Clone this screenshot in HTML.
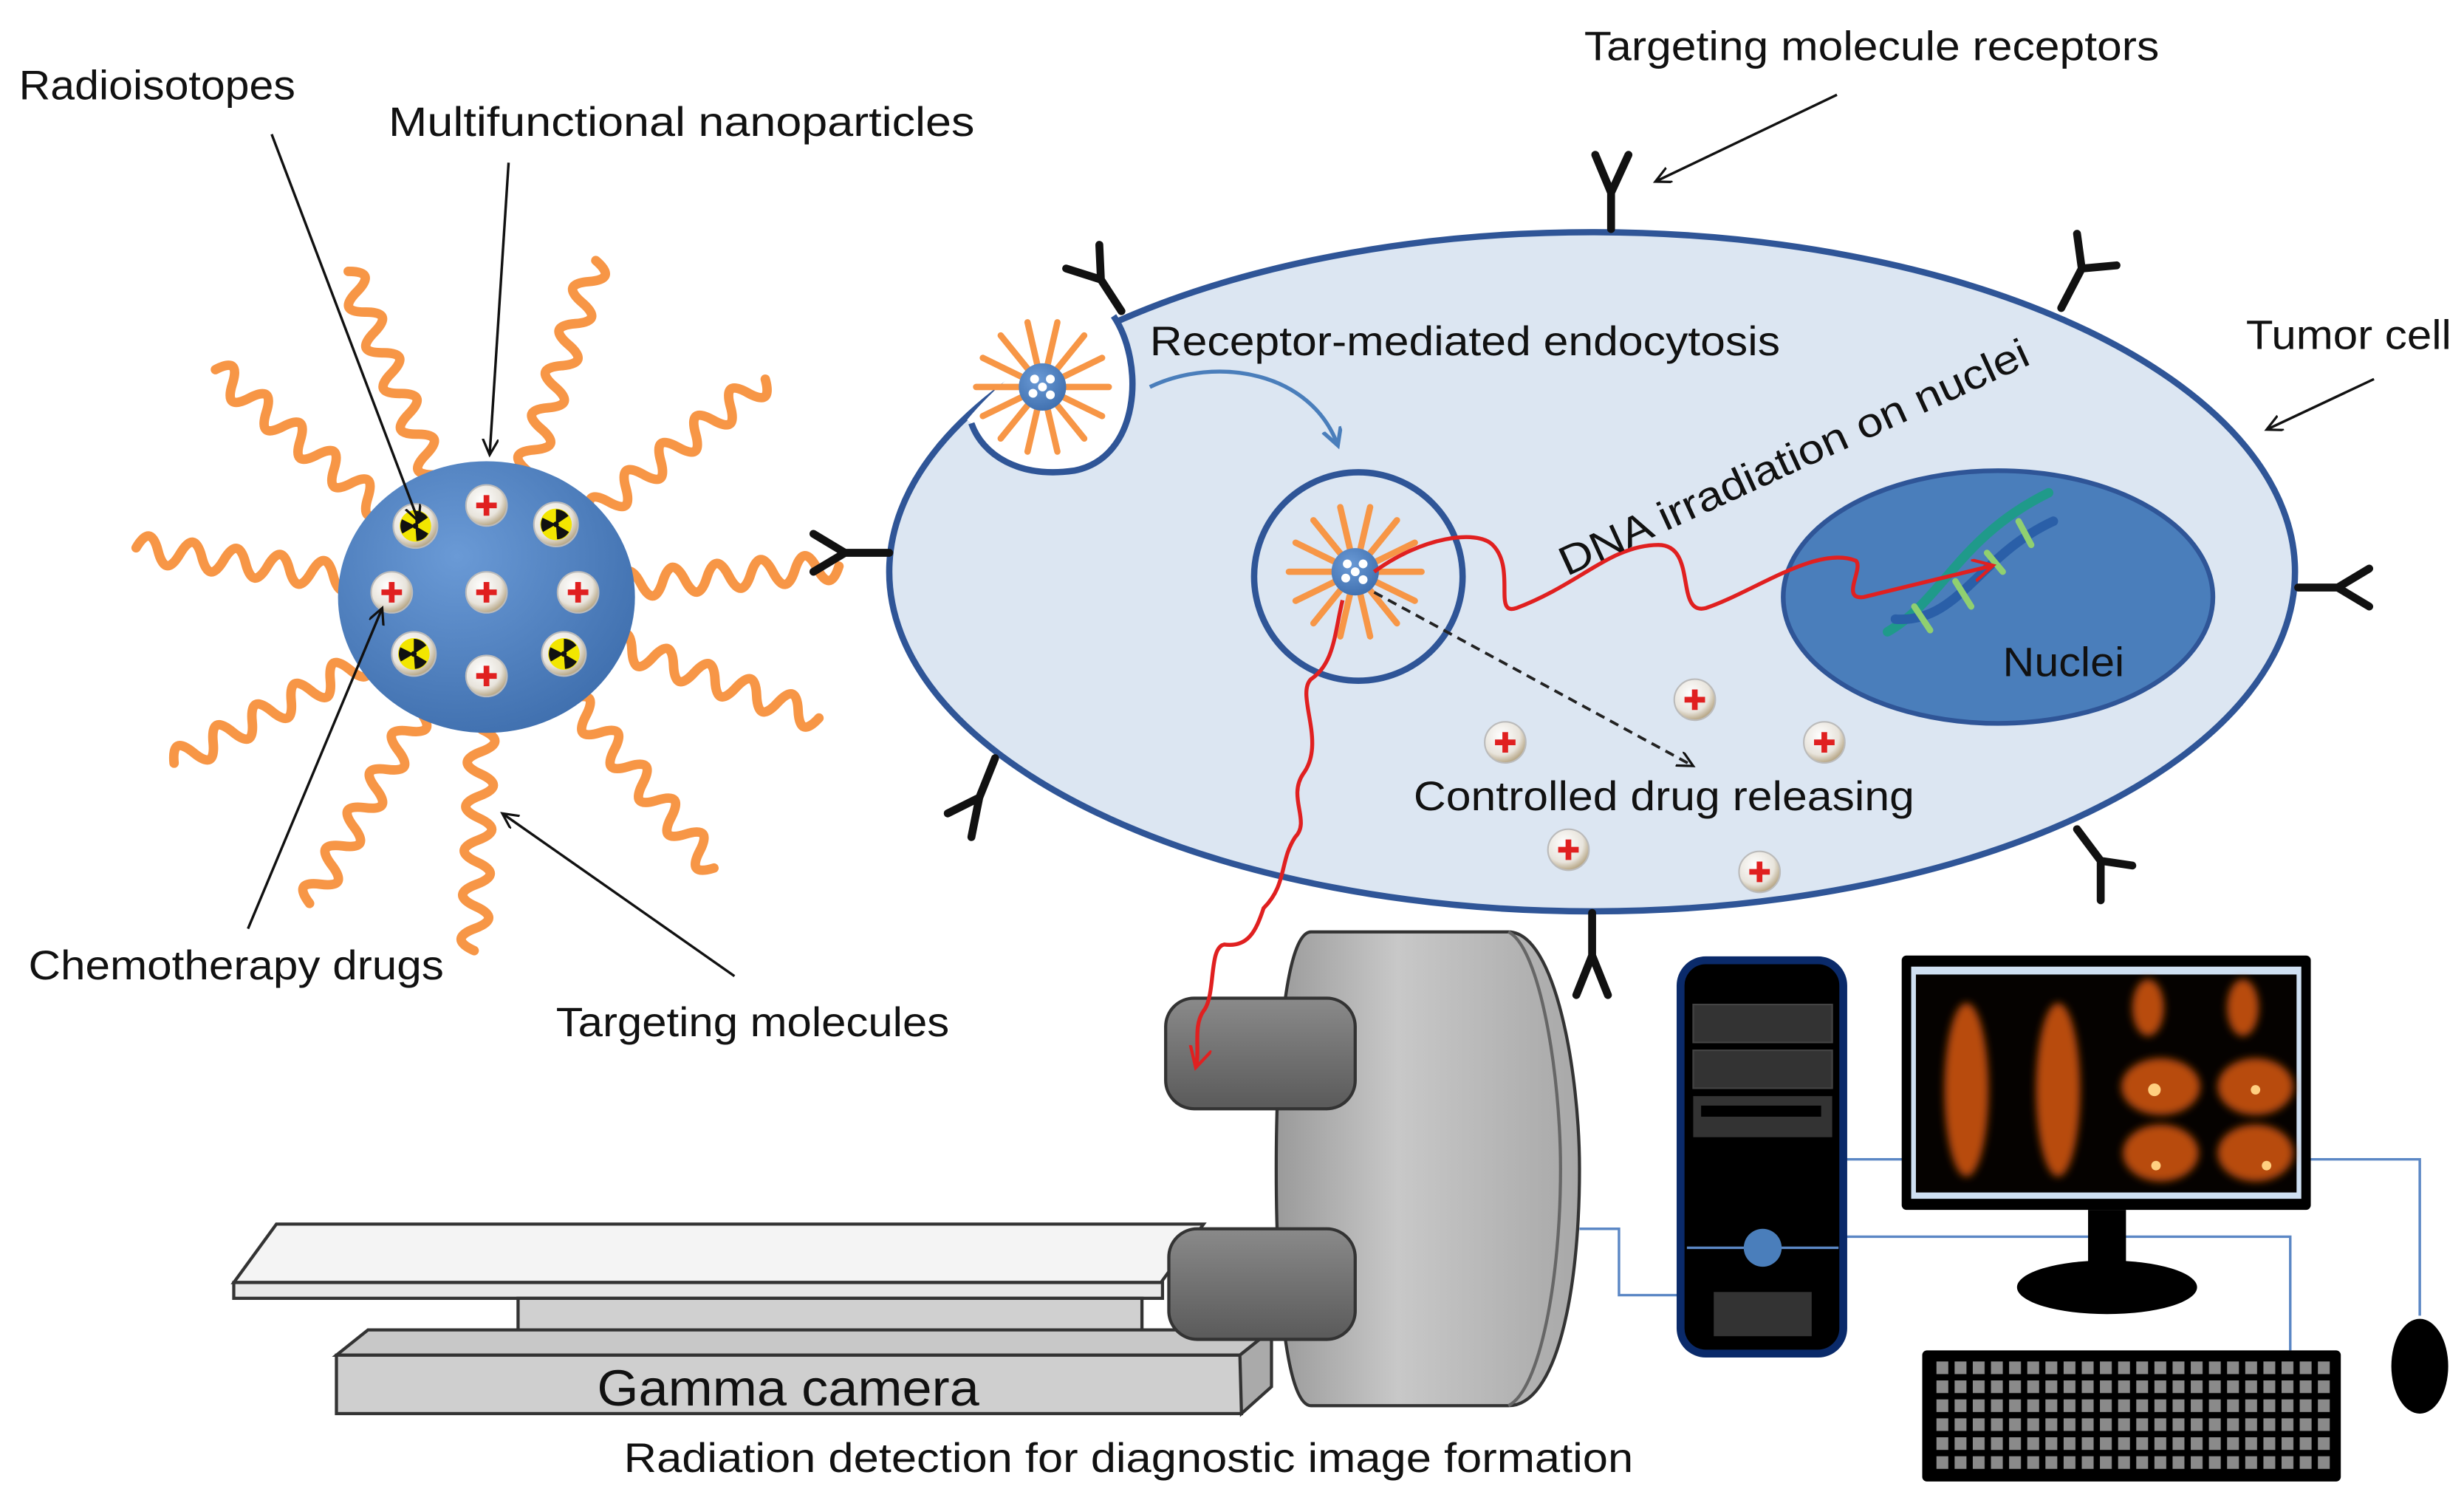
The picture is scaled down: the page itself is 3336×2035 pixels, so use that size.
<!DOCTYPE html>
<html><head><meta charset="utf-8"><style>
html,body{margin:0;padding:0;background:#fff}
svg{display:block}
text{font-family:"Liberation Sans",sans-serif;fill:#111}
</style></head><body>
<svg width="3336" height="2035" viewBox="0 0 1560 951.6" xmlns="http://www.w3.org/2000/svg" xmlns:xlink="http://www.w3.org/1999/xlink">
<defs>
<radialGradient id="np" cx="40%" cy="35%" r="70%"><stop offset="0" stop-color="#6a9ad6"/><stop offset="1" stop-color="#3f6fae"/></radialGradient>
<radialGradient id="dot" cx="40%" cy="35%" r="65%"><stop offset="0" stop-color="#fff"/><stop offset="0.7" stop-color="#e8e4dc"/><stop offset="1" stop-color="#b8a888"/></radialGradient>
<linearGradient id="cyl" x1="0" x2="1"><stop offset="0" stop-color="#9a9a9a"/><stop offset="0.4" stop-color="#c8c8c8"/><stop offset="1" stop-color="#a8a8a8"/></linearGradient>
<linearGradient id="head" x1="0" y1="0" x2="0" y2="1"><stop offset="0" stop-color="#8a8a8a"/><stop offset="1" stop-color="#5a5a5a"/></linearGradient>
<marker id="ah" markerWidth="12" markerHeight="12" refX="10" refY="5" orient="auto" markerUnits="userSpaceOnUse"><path d="M0,0 L10,5 L0,10" fill="none" stroke="#111" stroke-width="1.5"/></marker>
<marker id="ahr" markerWidth="16" markerHeight="16" refX="13" refY="7" orient="auto" markerUnits="userSpaceOnUse"><path d="M0,0 L13,7 L0,14" fill="none" stroke="#e02020" stroke-width="2"/></marker>
<marker id="ahb" markerWidth="14" markerHeight="14" refX="11" refY="6" orient="auto" markerUnits="userSpaceOnUse"><path d="M0,0 L11,6 L0,12" fill="none" stroke="#4a7ebb" stroke-width="2.5"/></marker>
<filter id="bl"><feGaussianBlur stdDeviation="2.5"/></filter>
<pattern id="kp" x="1226" y="862" width="11.5" height="12" patternUnits="userSpaceOnUse"><rect width="7.5" height="8" fill="#8a8a8a"/></pattern>
<path id="tw" d="M84,0 q7,-17 14,0 t14,0 t14,0 t14,0 t14,0 t14,0 t14,0 t14,0 t14,0 t14,0" fill="none" stroke="#f79646" stroke-width="6" stroke-linecap="round" stroke-linejoin="round"/>
<path id="sw" d="M14,0 L42,0" fill="none" stroke="#f79646" stroke-width="4" stroke-linecap="round"/>
<g id="pl"><circle r="13" fill="url(#dot)" stroke="#bbb"/><path d="M-6.5,0H6.5M0,-6.5V6.5" stroke="#e02020" stroke-width="3.6"/></g>
<g id="rd"><circle r="14" fill="url(#dot)" stroke="#bbb"/><circle r="10" fill="#f2e600"/>
<path d="M0,0 L0,-9.5 A9.5,9.5 0 0 1 7.9,-5.3Z M0,0 L8.2,4.8 A9.5,9.5 0 0 1 0.7,9.5Z M0,0 L-8.2,4.8 A9.5,9.5 0 0 1 -8.5,-4.2Z" fill="#111"/><circle r="1.8" fill="#111"/></g>
<g id="sm">
<use xlink:href="#sw" transform="rotate(0)"/><use xlink:href="#sw" transform="rotate(26)"/><use xlink:href="#sw" transform="rotate(51)"/><use xlink:href="#sw" transform="rotate(77)"/><use xlink:href="#sw" transform="rotate(103)"/><use xlink:href="#sw" transform="rotate(129)"/><use xlink:href="#sw" transform="rotate(154)"/><use xlink:href="#sw" transform="rotate(180)"/><use xlink:href="#sw" transform="rotate(206)"/><use xlink:href="#sw" transform="rotate(231)"/><use xlink:href="#sw" transform="rotate(257)"/><use xlink:href="#sw" transform="rotate(283)"/><use xlink:href="#sw" transform="rotate(309)"/><use xlink:href="#sw" transform="rotate(334)"/>
<circle r="15" fill="url(#np)"/><circle cx="-5" cy="-5" r="2.8" fill="#fff"/><circle cx="5" cy="-5" r="2.8" fill="#fff"/><circle cx="-6" cy="4" r="2.8" fill="#fff"/><circle cx="5" cy="5" r="2.8" fill="#fff"/><circle r="2.8" fill="#fff"/>
</g>
</defs>

<!-- tentacles -->
<g transform="translate(308,378)">
<use xlink:href="#tw" transform="rotate(-113)"/><use xlink:href="#tw" transform="rotate(-72)"/><use xlink:href="#tw" transform="rotate(-140)"/><use xlink:href="#tw" transform="rotate(-38)"/><use xlink:href="#tw" transform="rotate(-172)"/><use xlink:href="#tw" transform="rotate(-5)"/><use xlink:href="#tw" transform="rotate(152)"/><use xlink:href="#tw" transform="rotate(20)"/><use xlink:href="#tw" transform="rotate(120)"/><use xlink:href="#tw" transform="rotate(50)"/><use xlink:href="#tw" transform="rotate(92)"/>
</g>
<ellipse cx="308" cy="378" rx="94" ry="86" fill="url(#np)"/>
<use xlink:href="#rd" x="263" y="333"/><use xlink:href="#rd" x="352" y="332"/><use xlink:href="#rd" x="262" y="414"/><use xlink:href="#rd" x="357" y="414"/>
<use xlink:href="#pl" x="308" y="320"/><use xlink:href="#pl" x="248" y="375"/><use xlink:href="#pl" x="308" y="375"/><use xlink:href="#pl" x="366" y="375"/><use xlink:href="#pl" x="308" y="428"/>

<!-- cell -->
<ellipse cx="1008" cy="362" rx="445" ry="215" fill="#dce6f2" stroke="#2f5597" stroke-width="4"/>
<path d="M705,200 C725,230 722,290 680,298 C645,303 622,288 615,268 A445,215 0 0 1 705,200 Z" fill="#fff"/>
<path d="M615,268 A445,215 0 0 1 705,200" fill="none" stroke="#fff" stroke-width="7"/>
<path d="M705,200 C725,230 722,290 680,298 C645,303 622,288 615,268" fill="none" stroke="#2f5597" stroke-width="4"/>
<circle cx="860" cy="365" r="66" fill="#dce6f2" stroke="#2f5597" stroke-width="4"/>
<ellipse cx="1265" cy="378" rx="136" ry="80" fill="#4a7ebb" stroke="#2f5597" stroke-width="3"/>
<use xlink:href="#sm" x="660" y="245"/>
<use xlink:href="#sm" x="858" y="362"/>
<!-- receptors -->
<g stroke="#111" stroke-width="5" fill="none" stroke-linecap="round">
<path d="M1020,145 V122 M1020,122 L1010,98 M1020,122 L1031,98"/>
<path d="M710,197 L697,177 M697,177 L675,170 M697,177 L696,155"/>
<path d="M1305,195 L1318,170 M1318,170 L1340,168 M1318,170 L1315,148"/>
<path d="M563,350 H535 M535,350 L515,338 M535,350 L515,362"/>
<path d="M1455,372 H1480 M1480,372 L1500,360 M1480,372 L1500,384"/>
<path d="M630,480 L620,505 M620,505 L600,515 M620,505 L615,530"/>
<path d="M1315,525 L1330,545 M1330,545 L1350,548 M1330,545 L1330,570"/>
<path d="M1008,578 V605 M1008,605 L998,630 M1008,605 L1018,630"/>
</g>
<path d="M728,245 C770,225 830,235 847,282" fill="none" stroke="#4a7ebb" stroke-width="2.5" marker-end="url(#ahb)"/>
<!-- DNA -->
<g fill="none" stroke-linecap="round">
<path d="M1195,400 C1230,380 1240,340 1297,312" stroke="#1f9a8a" stroke-width="6"/>
<path d="M1200,392 C1240,395 1252,352 1300,330" stroke="#2a5fa8" stroke-width="6"/>
<path d="M1212,384 L1222,399 M1238,368 L1248,384 M1258,350 L1268,362 M1278,330 L1286,345" stroke="#90d070" stroke-width="4"/>
</g>
<path d="M870,375 L1072,485" stroke="#222" stroke-width="1.8" stroke-dasharray="6,4" marker-end="url(#ah)"/>
<use xlink:href="#pl" x="953" y="470"/><use xlink:href="#pl" x="1073" y="443"/><use xlink:href="#pl" x="1155" y="470"/><use xlink:href="#pl" x="993" y="538"/><use xlink:href="#pl" x="1114" y="552"/>

<!-- pointers -->
<g stroke="#111" stroke-width="1.6" fill="none" marker-end="url(#ah)">
<path d="M172,85 L265,330"/><path d="M322,103 L310,288"/><path d="M157,588 L242,385"/><path d="M465,618 L318,515"/><path d="M1163,60 L1048,115"/><path d="M1503,240 L1435,272"/>
</g>

<!-- gamma camera -->
<polygon points="148,812 175,775 762,775 735,812" fill="#f4f4f4" stroke="#333" stroke-width="2"/>
<rect x="148" y="812" width="588" height="10" fill="#e8e8e8" stroke="#333" stroke-width="2"/>
<rect x="328" y="822" width="395" height="35" fill="#d0d0d0" stroke="#333" stroke-width="2"/>
<polygon points="213,858 233,842 805,842 785,858" fill="#c8c8c8" stroke="#333" stroke-width="2"/>
<rect x="213" y="858" width="573" height="37" fill="#cfcfcf" stroke="#333" stroke-width="2"/>
<polygon points="785,858 805,842 805,878 786,895" fill="#aaa" stroke="#333" stroke-width="2"/>
<path d="M830,590 H955 C985,590 1000,680 1000,740 C1000,820 985,890 955,890 H830 C815,890 808,820 808,740 C808,660 815,590 830,590 Z" fill="url(#cyl)" stroke="#333" stroke-width="2"/>
<path d="M955,590 C975,600 988,680 988,740 C988,810 975,880 955,890" fill="none" stroke="#666" stroke-width="2"/>
<rect x="738" y="632" width="120" height="70" rx="18" fill="url(#head)" stroke="#333" stroke-width="2"/>
<rect x="740" y="778" width="118" height="70" rx="18" fill="url(#head)" stroke="#333" stroke-width="2"/>
<text x="378" y="890" font-size="32" textLength="242" lengthAdjust="spacingAndGlyphs">Gamma camera</text>

<!-- red waves -->
<path d="M870,362 C900,340 935,335 945,345 C960,360 945,390 960,385 C1000,370 1020,345 1050,345 C1075,345 1060,390 1080,385 C1110,375 1150,345 1175,355 C1180,360 1165,380 1180,378 L1262,358" fill="none" stroke="#e02020" stroke-width="2.5" marker-end="url(#ahr)"/>
<path d="M850,380 C845,400 845,420 830,430 C820,440 840,470 825,490 C815,505 830,520 820,530 C810,545 815,560 800,575 C795,590 790,600 775,598 C765,600 770,630 762,640 C755,650 760,665 757,676" fill="none" stroke="#e02020" stroke-width="2.5" marker-end="url(#ahr)"/>

<!-- cables -->
<g stroke="#5b87c5" stroke-width="1.6" fill="none">
<path d="M1000,778 H1025 V820 H1064"/><path d="M1167,734 H1210"/><path d="M1167,783 H1450 V855"/><path d="M1462,734 H1532 V833"/>
</g>
<!-- tower -->
<rect x="1064" y="608" width="103" height="249" rx="16" fill="#000" stroke="#0a2a6a" stroke-width="5"/>
<rect x="1072" y="636" width="88" height="24" fill="#333" stroke="#444"/>
<rect x="1072" y="665" width="88" height="24" fill="#333" stroke="#444"/>
<rect x="1072" y="694" width="88" height="26" fill="#333"/><rect x="1077" y="700" width="76" height="7" fill="#000"/>
<path d="M1068,790 H1164" stroke="#5b87c5" stroke-width="1.6"/>
<circle cx="1116" cy="790" r="12" fill="#4a7ebb"/>
<rect x="1085" y="818" width="62" height="28" fill="#333"/>
<!-- monitor -->
<rect x="1204" y="605" width="259" height="161" rx="3" fill="#000"/>
<rect x="1210" y="612" width="247" height="147" fill="#cfe0f2"/>
<rect x="1213" y="617" width="241" height="138" fill="#050200"/>
<g fill="#b84c0c" filter="url(#bl)">
<ellipse cx="1245" cy="690" rx="14" ry="55"/><ellipse cx="1303" cy="690" rx="14" ry="55"/>
<ellipse cx="1360" cy="638" rx="10" ry="18"/><ellipse cx="1420" cy="638" rx="10" ry="18"/>
<ellipse cx="1368" cy="688" rx="25" ry="18"/><ellipse cx="1428" cy="688" rx="24" ry="18"/>
<ellipse cx="1368" cy="730" rx="24" ry="18"/><ellipse cx="1428" cy="730" rx="24" ry="18"/>
</g>
<g fill="#ffd080"><circle cx="1364" cy="690" r="4"/><circle cx="1428" cy="690" r="3"/><circle cx="1365" cy="738" r="3"/><circle cx="1435" cy="738" r="3"/></g>
<rect x="1322" y="766" width="24" height="42" fill="#000"/>
<ellipse cx="1334" cy="815" rx="57" ry="17" fill="#000"/>
<!-- keyboard -->
<rect x="1217" y="855" width="265" height="83" rx="3" fill="#000"/>
<rect x="1224" y="860" width="252" height="72" fill="url(#kp)"/>
<ellipse cx="1532" cy="865" rx="18" ry="30" fill="#000"/>

<!-- labels -->
<g font-size="26">
<text x="12" y="63" textLength="175" lengthAdjust="spacingAndGlyphs">Radioisotopes</text>
<text x="246" y="86" textLength="371" lengthAdjust="spacingAndGlyphs">Multifunctional nanoparticles</text>
<text x="18" y="620" textLength="263" lengthAdjust="spacingAndGlyphs">Chemotherapy drugs</text>
<text x="352" y="656" textLength="249" lengthAdjust="spacingAndGlyphs">Targeting molecules</text>
<text x="1003" y="38" textLength="364" lengthAdjust="spacingAndGlyphs">Targeting molecule receptors</text>
<text x="1422" y="221" textLength="130" lengthAdjust="spacingAndGlyphs">Tumor cell</text>
<text x="728" y="225" textLength="399" lengthAdjust="spacingAndGlyphs">Receptor-mediated endocytosis</text>
<text x="0" y="0" transform="translate(992,365) rotate(-24.6)" textLength="324" lengthAdjust="spacingAndGlyphs">DNA irradiation on nuclei</text>
<text x="1268" y="428" textLength="77" lengthAdjust="spacingAndGlyphs">Nuclei</text>
<text x="895" y="513" textLength="317" lengthAdjust="spacingAndGlyphs">Controlled drug releasing</text>
<text x="395" y="932" textLength="639" lengthAdjust="spacingAndGlyphs">Radiation detection for diagnostic image formation</text>
</g>
</svg>
</body></html>
